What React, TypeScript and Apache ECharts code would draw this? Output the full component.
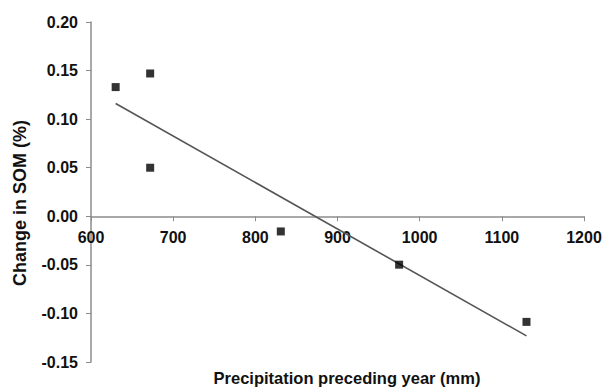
import React, { useEffect, useRef } from "react";
import * as echarts from "echarts";

const precipitation = [630, 672, 672, 831, 975, 1130];
const somChange = [0.133, 0.147, 0.05, -0.0156, -0.0498, -0.1087];
const xTicks = [600, 700, 800, 900, 1000, 1100, 1200];
const yTicks = [-0.15, -0.1, -0.05, 0.0, 0.05, 0.1, 0.15, 0.2];
const xTitle = "Precipitation preceding year (mm)";
const yTitle = "Change in SOM (%)";

function fitLine(xs: number[], ys: number[]) {
  const n = xs.length;
  const mx = xs.reduce((a, b) => a + b, 0) / n;
  const my = ys.reduce((a, b) => a + b, 0) / n;
  let sxy = 0;
  let sxx = 0;
  for (let i = 0; i < n; i++) {
    sxy += (xs[i] - mx) * (ys[i] - my);
    sxx += (xs[i] - mx) * (xs[i] - mx);
  }
  const slope = sxy / sxx;
  const icpt = my - slope * mx;
  const x0 = Math.min(...xs);
  const x1 = Math.max(...xs);
  return [
    [x0, icpt + slope * x0],
    [x1, icpt + slope * x1],
  ];
}

export default function App() {
  const ref = useRef<HTMLDivElement>(null);
  useEffect(() => {
    if (!ref.current) return;
    const chart = echarts.init(ref.current, null, { renderer: "svg" });
    const font = "'Liberation Sans', Arial, sans-serif";
    const gridTop = 22;
    const gridBottom = 25;
    const gridHeight = 387 - gridTop - gridBottom;
    const yMin = yTicks[0];
    const yMax = yTicks[yTicks.length - 1];
    // move the x axis up so that it crosses the y axis at zero
    const zeroOffset = -gridHeight * ((0 - yMin) / (yMax - yMin));
    chart.setOption({
      animation: false,
      backgroundColor: "#ffffff",
      grid: { left: 91, right: 31, top: gridTop, bottom: gridBottom },
      xAxis: {
        type: "value",
        min: xTicks[0],
        max: xTicks[xTicks.length - 1],
        interval: xTicks[1] - xTicks[0],
        offset: zeroOffset,
        axisLine: { onZero: false, lineStyle: { color: "#8c8c8c", width: 1.5 } },
        axisTick: { show: true, length: 5, inside: false, lineStyle: { color: "#8c8c8c" } },
        splitLine: { show: false },
        axisLabel: {
          color: "#111",
          fontSize: 16,
          fontWeight: "bold",
          fontFamily: font,
          margin: 13,
          formatter: (v: number) => String(v),
        },
      },
      yAxis: {
        type: "value",
        min: yMin,
        max: yMax,
        interval: 0.05,
        axisLine: { show: true, onZero: false, lineStyle: { color: "#8c8c8c", width: 1.5 } },
        axisTick: { show: true, length: 5, lineStyle: { color: "#8c8c8c" } },
        splitLine: { show: false },
        axisLabel: {
          color: "#111",
          fontSize: 16,
          fontWeight: "bold",
          fontFamily: font,
          margin: 13,
          formatter: (v: number) => v.toFixed(2),
        },
      },
      graphic: [
        {
          type: "text",
          x: 347,
          y: 378,
          style: {
            text: xTitle,
            fill: "#111",
            font: `bold 16.5px ${font}`,
            align: "center",
            verticalAlign: "middle",
          },
        },
        {
          type: "text",
          x: 20,
          y: 203,
          rotation: Math.PI / 2,
          style: {
            text: yTitle,
            fill: "#111",
            font: `bold 18px ${font}`,
            align: "center",
            verticalAlign: "middle",
          },
        },
      ],
      series: [
        {
          type: "line",
          data: fitLine(precipitation, somChange),
          symbol: "none",
          lineStyle: { color: "#555", width: 1.6 },
          z: 2,
        },
        {
          type: "scatter",
          data: precipitation.map((x, i) => [x, somChange[i]]),
          symbol: "rect",
          symbolSize: 8,
          itemStyle: { color: "#000" },
          z: 3,
        },
      ],
    });
    return () => chart.dispose();
  }, []);
  return <div ref={ref} style={{ width: 615, height: 387, position: "absolute", left: 0, top: 0 }} />;
}
